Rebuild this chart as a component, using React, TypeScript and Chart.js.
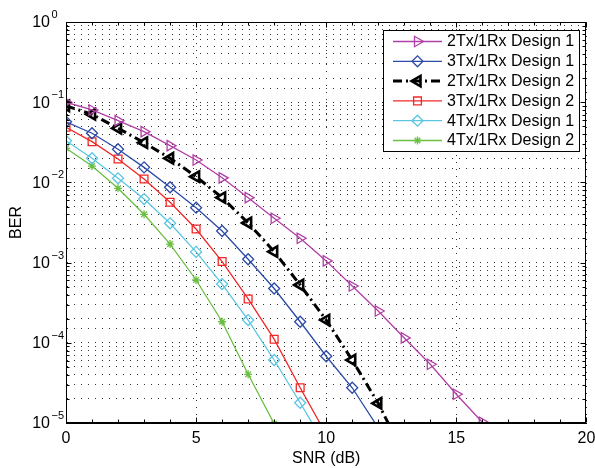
import React, { useEffect, useRef } from 'react';
import { Chart, registerables } from 'chart.js';
import { drawPoint } from 'chart.js/helpers';

Chart.register(...registerables);

// ---------------- data ----------------
const snr = [0, 1, 2, 3, 4, 5, 6, 7, 8, 9, 10, 11, 12, 13, 14, 15, 16];

const seriesNames = [
  '2Tx/1Rx Design 1',
  '3Tx/1Rx Design 1',
  '2Tx/1Rx Design 2',
  '3Tx/1Rx Design 2',
  '4Tx/1Rx Design 1',
  '4Tx/1Rx Design 2',
];

const ber2Tx1 = [0.1, 0.08, 0.0588, 0.0429, 0.0287, 0.019, 0.0114, 0.00645, 0.00357, 0.00201, 0.00105, 5.1e-4, 2.49e-4, 1.15e-4, 5.4e-5, 2.28e-5, 1.02e-5];
const ber3Tx1 = [0.057, 0.041, 0.0259, 0.0154, 0.0087, 0.00484, 0.00248, 0.0011, 4.75e-4, 1.83e-4, 6.8e-5, 2.75e-5, 8.7e-6];
const ber2Tx2 = [0.09, 0.0707, 0.0473, 0.0313, 0.02, 0.0118, 0.00646, 0.00312, 0.00137, 5.26e-4, 1.92e-4, 6.1e-5, 1.76e-5, 4e-6];
const ber3Tx2 = [0.0486, 0.0322, 0.0196, 0.011, 0.00565, 0.00262, 0.00103, 3.52e-4, 1.11e-4, 2.75e-5, 7.2e-6];
const ber4Tx1 = [0.0331, 0.02, 0.01125, 0.0062, 0.00309, 0.00136, 5.4e-4, 1.92e-4, 6.1e-5, 1.79e-5, 5e-6];
const ber4Tx2 = [0.0266, 0.016, 0.00844, 0.004, 0.0017, 6.07e-4, 1.83e-4, 4.05e-5, 9.8e-6];

const xTicks = [0, 5, 10, 15, 20];
const yDecades = [0, -1, -2, -3, -4, -5];

const FONT = '"Liberation Sans", Arial, Helvetica, sans-serif';
const FS = 16;

const toPoints = (vals: number[]) => vals.map((v, i) => ({ x: snr[i], y: v }));

// ---------------- plugins ----------------
const axesDecor = {
  id: 'axesDecor',
  afterDraw(chart: any) {
    const { ctx, chartArea } = chart;
    const xs = chart.scales.x;
    const ys = chart.scales.y;
    const L = Math.round(chartArea.left) + 0.5;
    const R = Math.round(chartArea.right) - 0.5;
    const T = Math.round(chartArea.top) + 0.5;
    const B = Math.round(chartArea.bottom) - 0.5;
    ctx.save();
    ctx.strokeStyle = '#000';
    ctx.lineWidth = 1;
    ctx.setLineDash([]);
    ctx.beginPath();
    // x ticks (inward, bottom & top)
    for (let v = xTicks[0]; v <= xTicks[xTicks.length - 1]; v += 1) {
      const px = Math.round(xs.getPixelForValue(v)) + 0.5;
      const len = xTicks.includes(v) ? 5 : 3;
      ctx.moveTo(px, B);
      ctx.lineTo(px, B - len);
      ctx.moveTo(px, T);
      ctx.lineTo(px, T + len);
    }
    // y ticks (inward, left & right)
    for (let e = -5; e <= 0; e++) {
      for (let m = 1; m <= 9; m++) {
        if (e === 0 && m > 1) break;
        const py = Math.round(ys.getPixelForValue(m * Math.pow(10, e))) + 0.5;
        const len = m === 1 ? 5 : 3;
        ctx.moveTo(L, py);
        ctx.lineTo(L + len, py);
        ctx.moveTo(R, py);
        ctx.lineTo(R - len, py);
      }
    }
    ctx.stroke();
    // box
    ctx.strokeRect(L, T, R - L, B - T);

    // y tick labels 10^k
    ctx.fillStyle = '#000';
    yDecades.forEach((e) => {
      const py = ys.getPixelForValue(Math.pow(10, e));
      ctx.font = `${FS}px ${FONT}`;
      ctx.textAlign = 'right';
      ctx.textBaseline = 'middle';
      ctx.fillText('10', 50, py + 1);
      ctx.font = `11px ${FONT}`;
      ctx.textAlign = 'left';
      ctx.fillText(e === 0 ? '0' : '\u2212' + Math.abs(e), 51.5, py - 7);
    });
    ctx.restore();
  },
};

const legendPlugin = {
  id: 'matlabLegend',
  afterDraw(chart: any) {
    const { ctx } = chart;
    const x0 = 383.5, y0 = 30.5, w = 196, h = 121;
    ctx.save();
    ctx.fillStyle = '#fff';
    ctx.fillRect(x0, y0, w, h);
    ctx.strokeStyle = '#000';
    ctx.lineWidth = 1;
    ctx.strokeRect(x0, y0, w, h);
    chart.data.datasets.forEach((ds: any, i: number) => {
      const y = 41.5 + i * 19.8;
      ctx.save();
      ctx.strokeStyle = ds.borderColor;
      ctx.lineWidth = ds.borderWidth;
      ctx.setLineDash(ds.borderDash || []);
      ctx.beginPath();
      ctx.moveTo(393, y);
      ctx.lineTo(442, y);
      ctx.stroke();
      ctx.setLineDash([]);
      ctx.lineWidth = ds.pointBorderWidth;
      ctx.strokeStyle = ds.pointBorderColor;
      ctx.fillStyle = ds.pointBackgroundColor;
      drawPoint(ctx, {
        pointStyle: ds.pointStyle,
        rotation: ds.pointRotation || 0,
        radius: ds.pointRadius,
        borderWidth: ds.pointBorderWidth,
      } as any, 417.5, y);
      ctx.restore();
      ctx.fillStyle = '#000';
      ctx.font = `${FS}px ${FONT}`;
      ctx.textAlign = 'left';
      ctx.textBaseline = 'middle';
      ctx.fillText(ds.label, 447, y + 0.5);
    });
    ctx.restore();
  },
};

// ---------------- component ----------------
export default function App() {
  const canvasRef = useRef<HTMLCanvasElement | null>(null);

  useEffect(() => {
    document.body.style.margin = '0';
    const canvas = canvasRef.current;
    if (!canvas) return;

    const mk = (
      label: string,
      vals: number[],
      color: string,
      style: string,
      radius: number,
      rotation = 0,
      width = 1.3,
      dash: number[] = [],
      pbw = 1.3,
    ) => ({
      label,
      data: toPoints(vals),
      borderColor: color,
      backgroundColor: 'rgba(0,0,0,0)',
      borderWidth: width,
      borderDash: dash,
      pointStyle: style,
      pointRotation: rotation,
      pointRadius: radius,
      pointHoverRadius: radius,
      pointBorderColor: color,
      pointBackgroundColor: 'rgba(0,0,0,0)',
      pointBorderWidth: pbw,
      tension: 0,
      fill: false,
    });

    const chart = new Chart(canvas, {
      type: 'line',
      data: {
        datasets: [
          mk(seriesNames[0], ber2Tx1, '#B03FA6', 'triangle', 6, 90),
          mk(seriesNames[1], ber3Tx1, '#2C4BA6', 'rectRot', 5.5),
          mk(seriesNames[2], ber2Tx2, '#000000', 'triangle', 6, -90, 3, [9, 4, 2, 4], 2.6),
          mk(seriesNames[3], ber3Tx2, '#F02828', 'rect', 5.5),
          mk(seriesNames[4], ber4Tx1, '#5CC6E2', 'rectRot', 5.5),
          mk(seriesNames[5], ber4Tx2, '#6CBF45', 'star', 4),
        ] as any,
      },
      options: {
        animation: false,
        responsive: false,
        events: [],
        layout: { padding: { top: 22, right: 8, left: 0, bottom: 0 } },
        plugins: {
          legend: { display: false },
          tooltip: { enabled: false },
        },
        scales: {
          x: {
            type: 'linear',
            min: 0,
            max: 20,
            afterFit: (s: any) => { s.height = 45; s.paddingRight = 0; s.paddingLeft = 0; },
            afterBuildTicks: (s: any) => { s.ticks = xTicks.map((v) => ({ value: v })); },
            ticks: {
              color: '#000',
              font: { family: FONT, size: FS },
              padding: 6,
              maxRotation: 0,
              autoSkip: false,
            },
            grid: {
              color: '#333',
              lineWidth: 1,
              drawTicks: false,
            },
            border: { display: true, color: '#000', width: 1, dash: [1, 6] },
            title: {
              display: true,
              text: 'SNR (dB)',
              color: '#000',
              font: { family: FONT, size: FS },
              padding: { top: 0, bottom: 0 },
            },
          },
          y: {
            type: 'logarithmic',
            min: 1e-5,
            max: 1,
            afterFit: (s: any) => { s.width = 66; s.paddingTop = 0; s.paddingBottom = 0; },
            ticks: { display: false, autoSkip: false },
            grid: {
              color: '#333',
              lineWidth: 1,
              drawTicks: false,
            },
            border: { display: true, color: '#000', width: 1, dash: [1, 6] },
            title: {
              display: true,
              text: 'BER',
              color: '#000',
              font: { family: FONT, size: FS },
              padding: { top: 7, bottom: 0 },
            },
          },
        },
      } as any,
      plugins: [axesDecor, legendPlugin],
    });

    return () => chart.destroy();
  }, []);

  return (
    <div style={{ width: 595, height: 468 }}>
      <canvas ref={canvasRef} width={595} height={468} style={{ display: 'block' }} />
    </div>
  );
}
